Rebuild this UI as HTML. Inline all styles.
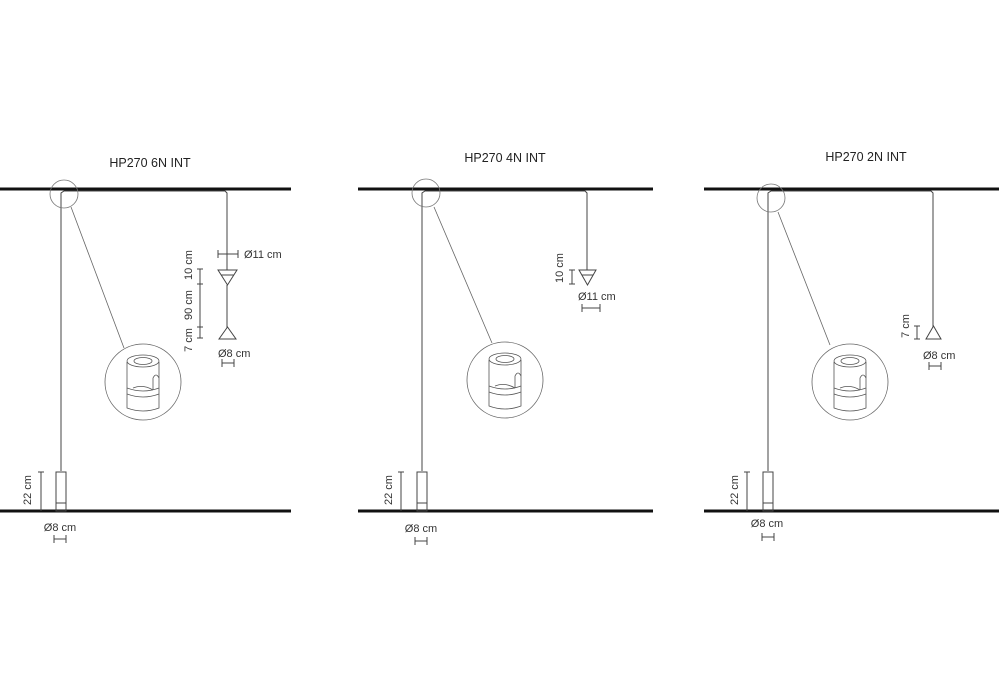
<!DOCTYPE html>
<html><head><meta charset="utf-8"><style>
html,body{margin:0;padding:0;background:#fff}
svg{display:block}
text{font-family:"Liberation Sans",sans-serif;fill:#333;font-size:11px}
.t{font-size:12.5px;fill:#222}
</style></head><body>
<svg width="1000" height="700" viewBox="0 0 1000 700" xmlns="http://www.w3.org/2000/svg">
<defs>
<g id="det" fill="none" stroke="#555" stroke-width="0.8">
  <circle cx="0" cy="0" r="38" stroke="#666"/>
  <path d="M-16,-20 L-16,26 Q0,32 16,26 L16,-20"/>
  <ellipse cx="0" cy="-21" rx="16" ry="6"/>
  <ellipse cx="0" cy="-21" rx="9" ry="3.5"/>
  <path d="M-16,6 Q0,12 16,6"/>
  <path d="M-16,12 Q0,18 16,12"/>
  <path d="M10,8 L10,-4 Q13,-10 16,-4"/>
  <path d="M-10,6 Q0,2 10,8"/>
</g>
<g id="pend" fill="none" stroke="#444" stroke-width="1">
  <rect x="0" y="0" width="10" height="39"/>
  <line x1="0" y1="31" x2="10" y2="31"/>
</g>
</defs>

<!-- Panel 1 -->
<text class="t" x="150" y="167" text-anchor="middle">HP270 6N INT</text>
<line x1="0" y1="189" x2="291" y2="189" stroke="#111" stroke-width="3"/>
<line x1="0" y1="511" x2="291" y2="511" stroke="#111" stroke-width="3"/>
<polyline points="61,471 61,193 64,191 225,191 227,193 227,270" fill="none" stroke="#444" stroke-width="1"/>
<circle cx="64" cy="194" r="14" fill="none" stroke="#777" stroke-width="0.8"/>
<line x1="71" y1="207" x2="124" y2="348" stroke="#666" stroke-width="0.8"/>
<use href="#det" x="143" y="382"/>
<use href="#pend" x="56" y="472"/>
<g stroke="#444" stroke-width="1" fill="none">
  <line x1="218" y1="254" x2="238" y2="254"/><line x1="218" y1="250" x2="218" y2="258"/><line x1="238" y1="250" x2="238" y2="258"/>
  <polygon points="218,270 237,270 227.5,285"/><line x1="221" y1="275" x2="234" y2="275"/>
  <line x1="227" y1="285" x2="227" y2="328"/>
  <polygon points="227.5,327 219,339 236,339"/>
  <line x1="200" y1="269" x2="200" y2="338"/>
  <line x1="197" y1="269" x2="203" y2="269"/><line x1="197" y1="284" x2="203" y2="284"/><line x1="197" y1="327" x2="203" y2="327"/><line x1="197" y1="338" x2="203" y2="338"/>
  <line x1="222" y1="363" x2="234" y2="363"/><line x1="222" y1="359" x2="222" y2="367"/><line x1="234" y1="359" x2="234" y2="367"/>
  <line x1="41" y1="472" x2="41" y2="511"/><line x1="38" y1="472" x2="44" y2="472"/>
  <line x1="54" y1="539" x2="66" y2="539"/><line x1="54" y1="535" x2="54" y2="543"/><line x1="66" y1="535" x2="66" y2="543"/>
</g>
<text x="244" y="258">Ø11 cm</text>
<text x="218" y="357">Ø8 cm</text>
<text transform="translate(192,265) rotate(-90)" text-anchor="middle">10 cm</text>
<text transform="translate(192,305) rotate(-90)" text-anchor="middle">90 cm</text>
<text transform="translate(192,340) rotate(-90)" text-anchor="middle">7 cm</text>
<text transform="translate(31,490) rotate(-90)" text-anchor="middle">22 cm</text>
<text x="60" y="531" text-anchor="middle">Ø8 cm</text>

<!-- Panel 2 -->
<text class="t" x="505" y="162" text-anchor="middle">HP270 4N INT</text>
<line x1="358" y1="189" x2="653" y2="189" stroke="#111" stroke-width="3"/>
<line x1="358" y1="511" x2="653" y2="511" stroke="#111" stroke-width="3"/>
<polyline points="422,471 422,193 425,191 585,191 587,193 587,270" fill="none" stroke="#444" stroke-width="1"/>
<circle cx="426" cy="193" r="14" fill="none" stroke="#777" stroke-width="0.8"/>
<line x1="434" y1="207" x2="492" y2="343" stroke="#666" stroke-width="0.8"/>
<use href="#det" x="505" y="380"/>
<use href="#pend" x="417" y="472"/>
<g stroke="#444" stroke-width="1" fill="none">
  <polygon points="579,270 596,270 587.5,285"/><line x1="582" y1="275" x2="593" y2="275"/>
  <line x1="572" y1="270" x2="572" y2="284"/><line x1="569" y1="270" x2="575" y2="270"/><line x1="569" y1="284" x2="575" y2="284"/>
  <line x1="582" y1="308" x2="600" y2="308"/><line x1="582" y1="304" x2="582" y2="312"/><line x1="600" y1="304" x2="600" y2="312"/>
  <line x1="401" y1="472" x2="401" y2="511"/><line x1="398" y1="472" x2="404" y2="472"/>
  <line x1="415" y1="541" x2="427" y2="541"/><line x1="415" y1="537" x2="415" y2="545"/><line x1="427" y1="537" x2="427" y2="545"/>
</g>
<text transform="translate(563,268) rotate(-90)" text-anchor="middle">10 cm</text>
<text x="578" y="300">Ø11 cm</text>
<text transform="translate(392,490) rotate(-90)" text-anchor="middle">22 cm</text>
<text x="421" y="532" text-anchor="middle">Ø8 cm</text>

<!-- Panel 3 -->
<text class="t" x="866" y="161" text-anchor="middle">HP270 2N INT</text>
<line x1="704" y1="189" x2="999" y2="189" stroke="#111" stroke-width="3"/>
<line x1="704" y1="511" x2="999" y2="511" stroke="#111" stroke-width="3"/>
<polyline points="768,471 768,193 771,191 931,191 933,193 933,327" fill="none" stroke="#444" stroke-width="1"/>
<circle cx="771" cy="198" r="14" fill="none" stroke="#777" stroke-width="0.8"/>
<line x1="778" y1="212" x2="830" y2="345" stroke="#666" stroke-width="0.8"/>
<use href="#det" x="850" y="382"/>
<use href="#pend" x="763" y="472"/>
<g stroke="#444" stroke-width="1" fill="none">
  <polygon points="933.5,326 926,339 941,339"/>
  <line x1="917" y1="326" x2="917" y2="339"/><line x1="914" y1="326" x2="920" y2="326"/><line x1="914" y1="339" x2="920" y2="339"/>
  <line x1="929" y1="366" x2="941" y2="366"/><line x1="929" y1="362" x2="929" y2="370"/><line x1="941" y1="362" x2="941" y2="370"/>
  <line x1="747" y1="472" x2="747" y2="511"/><line x1="744" y1="472" x2="750" y2="472"/>
  <line x1="762" y1="537" x2="774" y2="537"/><line x1="762" y1="533" x2="762" y2="541"/><line x1="774" y1="533" x2="774" y2="541"/>
</g>
<text transform="translate(909,326) rotate(-90)" text-anchor="middle">7 cm</text>
<text x="923" y="359">Ø8 cm</text>
<text transform="translate(738,490) rotate(-90)" text-anchor="middle">22 cm</text>
<text x="767" y="527" text-anchor="middle">Ø8 cm</text>
</svg>
</body></html>
